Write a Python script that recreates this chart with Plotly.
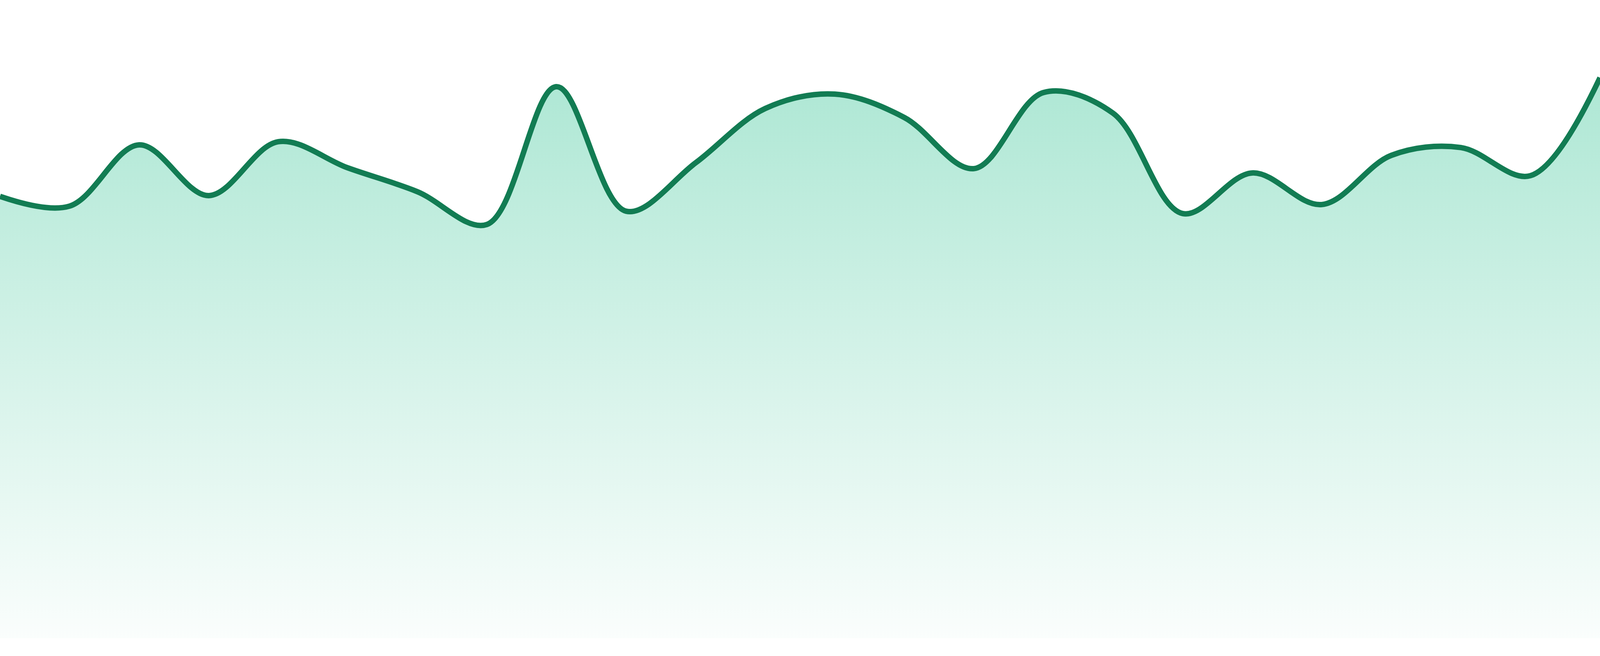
import plotly.graph_objects as go

# sample positions and values
periods = list(range(24))
values = [113.2, 110.7, 126.4, 113.4, 127.2, 120.5, 114.4, 106.0,
          141.3, 109.4, 121.8, 135.7, 139.4, 133.4, 120.3, 139.8,
          134.5, 108.8, 119.2, 111.1, 123.7, 125.7, 118.5, 143.6]

line_color = "#127c53"

fig = go.Figure()
fig.add_trace(go.Scatter(
    x=periods, y=values,
    mode="lines",
    line=dict(color=line_color, width=14, shape="spline", smoothing=1),
    fill="tozeroy",
    fillgradient=dict(
        type="vertical",
        start=0, stop=max(values),
        colorscale=[[0, "rgba(16,185,129,0.02)"], [1, "rgba(16,185,129,0.34)"]],
    ),
    hoverinfo="skip",
    showlegend=False,
))

fig.update_xaxes(visible=False, range=[0, 23], fixedrange=True)
# leave a thin white strip under the area (about 45px of 1680)
fig.update_yaxes(visible=False, range=[0, 163.5], fixedrange=True, domain=[0.027, 1])
fig.update_layout(
    autosize=True,
    margin=dict(l=0, r=0, t=0, b=0),
    paper_bgcolor="white", plot_bgcolor="white",
)

# fill the whole window, no body margin
fig.write_html("out.html", config={"displayModeBar": False, "responsive": True},
               default_width="100vw", default_height="100vh",
               post_script="document.body.style.margin='0';document.body.style.overflow='hidden';")
